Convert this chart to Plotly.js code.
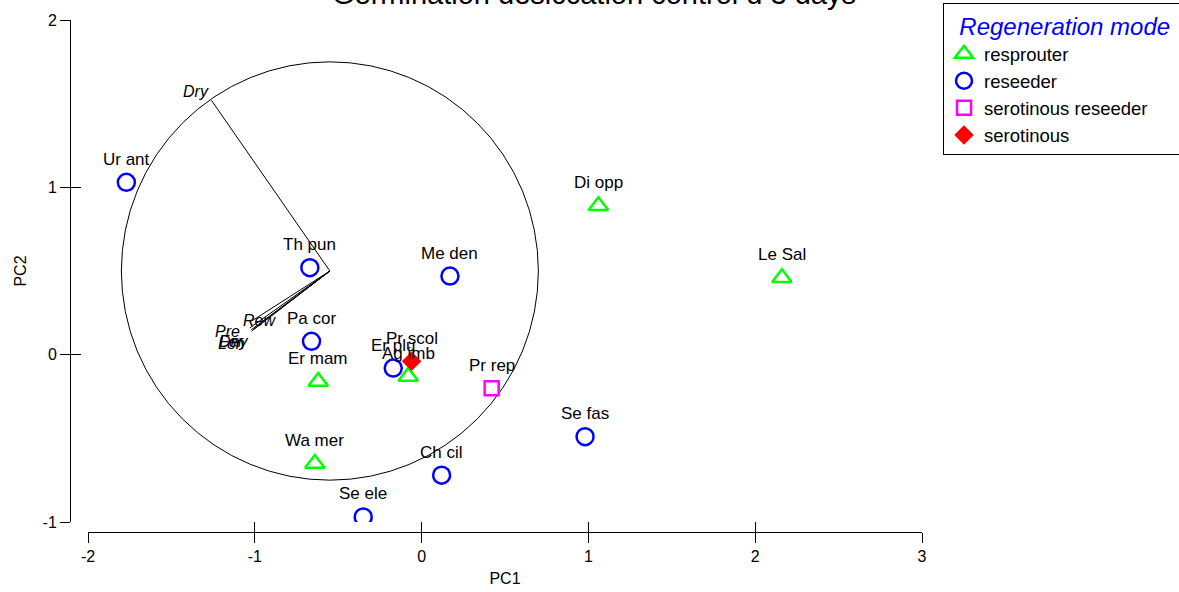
<!DOCTYPE html>
<html>
<head>
<meta charset="utf-8">
<script src="https://cdn.plot.ly/plotly-3.0.1.min.js"></script>
<style>
  html, body { margin: 0; padding: 0; background: #fff; }
  #chart { width: 1179px; height: 592px; }
</style>
</head>
<body>
<div id="chart"></div>
<script>
// Species scores on the first two principal components
const species = ["Ur ant", "Th pun", "Me den", "Pa cor", "Er mam", "Er plu", "Pr scol", "Ag imb",
                 "Pr rep", "Se fas", "Di opp", "Le Sal", "Wa mer", "Ch cil", "Se ele"];
const pc1 = [-1.77, -0.67, 0.17, -0.66, -0.62, -0.17, -0.06, -0.08, 0.42, 0.98, 1.06, 2.16, -0.64, 0.12, -0.35];
const pc2 = [1.03, 0.52, 0.47, 0.08, -0.16, -0.08, -0.04, -0.13, -0.20, -0.49, 0.89, 0.46, -0.65, -0.72, -0.97];
const regen = ["reseeder", "reseeder", "reseeder", "reseeder", "resprouter", "reseeder", "serotinous",
               "resprouter", "serotinous reseeder", "reseeder", "resprouter", "resprouter", "resprouter",
               "reseeder", "reseeder"];

// Legend order of the regeneration modes
const modes = ["resprouter", "reseeder", "serotinous reseeder", "serotinous"];

// Variable loadings, drawn from a common origin inside the correlation circle
const loadingOrigin = [-0.55, 0.5];
const loadingRadius = 1.25;
const varNames = ["Dry", "Rew", "Pre", "Fer", "Lon", "Dny"];
const varX = [-1.26, -1.02, -1.03, -1.02, -1.02, -1.01];
const varY = [1.52, 0.20, 0.16, 0.15, 0.14, 0.15];

const xTicks = [-2, -1, 0, 1, 2, 3];
const xTickText = ["-2", "-1", "0", "1", "2", "3"];
const yTicks = [-1, 0, 1, 2];
const yTickText = ["-1", "0", "1", "2"];

const chartTitle = "Germination desiccation control d 3 days";

const FONT = '"Liberation Sans", Arial, sans-serif';

const modeStyle = {
  "resprouter":          { symbol: "triangle-up-open", color: "#00ff00", size: 17, width: 2.5 },
  "reseeder":            { symbol: "circle-open",      color: "#0000ff", size: 17, width: 2.5 },
  "serotinous reseeder": { symbol: "square-open",      color: "#ff00ff", size: 14, width: 2.5 },
  "serotinous":          { symbol: "diamond",          color: "#ff0000", size: 15, width: 0 }
};

const traces = [];

// Loading vectors as one broken polyline
const vx = [], vy = [];
varNames.forEach((n, i) => {
  vx.push(loadingOrigin[0], varX[i], null);
  vy.push(loadingOrigin[1], varY[i], null);
});
traces.push({
  type: "scatter", mode: "lines", x: vx, y: vy,
  line: { color: "#000", width: 1 }, showlegend: false, hoverinfo: "skip"
});

// One trace per regeneration mode
modes.forEach(m => {
  const idx = regen.map((r, i) => r === m ? i : -1).filter(i => i >= 0);
  const st = modeStyle[m];
  traces.push({
    type: "scatter", mode: "markers", name: m,
    x: idx.map(i => pc1[i]), y: idx.map(i => pc2[i]),
    text: idx.map(i => species[i]),
    marker: {
      symbol: st.symbol, size: st.size, color: st.color,
      line: { color: st.color, width: st.width }
    }
  });
});

// Carrier for the crossing tick overlay axes
traces.push({ type: "scatter", mode: "markers", x: [], y: [], xaxis: "x2", yaxis: "y2",
              showlegend: false, hoverinfo: "skip" });

const annotations = [];
species.forEach((s, i) => {
  annotations.push({
    x: pc1[i], y: pc2[i], xref: "x", yref: "y", text: s, showarrow: false,
    yshift: 23, font: { family: FONT, size: 17, color: "#000" }
  });
});

// Loading labels placed just beyond each arrow tip
const varShift = [[-15, 9], [8, 1], [-22, -4], [-20, -12], [-20, -12], [-20, -12]];
varNames.forEach((n, i) => {
  annotations.push({
    x: varX[i], y: varY[i], xref: "x", yref: "y", text: n, showarrow: false,
    xshift: varShift[i][0], yshift: varShift[i][1],
    font: { family: FONT, size: 16, color: "#000", style: "italic" }
  });
});

// Chart title sitting at the very top edge
annotations.push({
  x: 0.615, y: 1, xref: "paper", yref: "paper", xanchor: "center", yanchor: "middle",
  yshift: 26, text: chartTitle, showarrow: false,
  font: { family: FONT, size: 29, color: "#000" }
});

const plotL = 70, plotR = 922, plotT = 20, plotB = 532;
const W = 1179, H = 592;
const xDom = [(88 - plotL) / (plotR - plotL), 1];
const yDom = [(plotB - 522) / (plotB - plotT), 1];

const axisCommon = {
  showgrid: false, zeroline: false, anchor: "free", position: 0, automargin: false,
  tickcolor: "#000", tickwidth: 1, ticklen: 10,
  tickfont: { family: FONT, size: 16, color: "#000" }
};

const layout = {
  width: W, height: H,
  margin: { l: plotL, r: W - plotR, t: plotT, b: H - plotB, pad: 0, autoexpand: false },
  paper_bgcolor: "#fff", plot_bgcolor: "#fff",
  font: { family: FONT, color: "#000" },
  xaxis: Object.assign({}, axisCommon, {
    domain: xDom, range: [-2, 3], tickvals: xTicks, ticktext: xTickText, ticks: "outside",
    showline: true, linecolor: "#000", linewidth: 1,
    title: { text: "PC1", font: { family: FONT, size: 16, color: "#000" }, standoff: 8 }
  }),
  yaxis: Object.assign({}, axisCommon, {
    domain: yDom, range: [-1, 2], tickvals: yTicks, ticktext: yTickText, ticks: "outside",
    showline: true, linecolor: "#000", linewidth: 1,
    title: { text: "PC2", font: { family: FONT, size: 16, color: "#000" }, standoff: 10 }
  }),
  xaxis2: Object.assign({}, axisCommon, {
    domain: xDom, range: [-2, 3], tickvals: xTicks, ticks: "inside",
    showticklabels: false, showline: false, overlaying: "x"
  }),
  yaxis2: Object.assign({}, axisCommon, {
    domain: yDom, range: [-1, 2], tickvals: yTicks, ticks: "inside",
    showticklabels: false, showline: false, overlaying: "y"
  }),
  shapes: [{
    type: "circle", xref: "x", yref: "y",
    x0: loadingOrigin[0] - loadingRadius, x1: loadingOrigin[0] + loadingRadius,
    y0: loadingOrigin[1] - loadingRadius, y1: loadingOrigin[1] + loadingRadius,
    line: { color: "#000", width: 1 }, layer: "below"
  }],
  annotations: annotations,
  showlegend: true,
  legend: {
    x: (943 - plotL) / (plotR - plotL), y: (plotB - 3) / (plotB - plotT),
    xanchor: "left", yanchor: "top",
    bordercolor: "#000", borderwidth: 1, bgcolor: "#fff",
    font: { family: FONT, size: 18.5, color: "#000" },
    itemwidth: 30,
    title: { text: "\u00a0\u00a0Regeneration mode\u00a0", font: { family: FONT, size: 24, color: "#0000ff", style: "italic" } }
  }
};

Plotly.newPlot("chart", traces, layout, { displayModeBar: false, staticPlot: true });
</script>
</body>
</html>
